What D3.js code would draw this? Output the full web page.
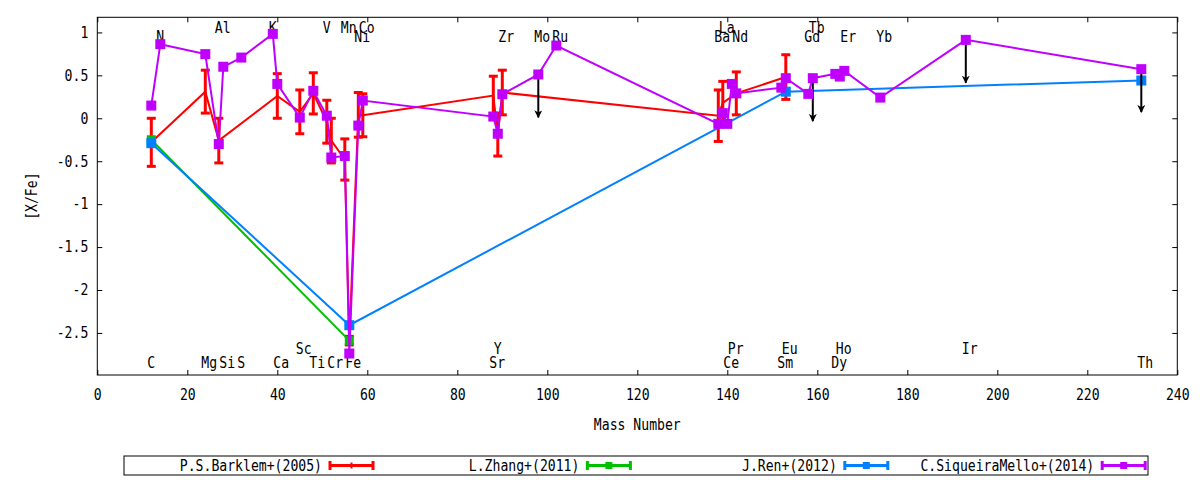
<!DOCTYPE html>
<html lang="en">
<head>
<meta charset="UTF-8">
<title>[X/Fe] vs Mass Number</title>
<script src="https://d3js.org/d3.v7.min.js"></script>
<style>
    body { margin: 0; background: #fff; }
    svg { display: block; }
    text {
        font-family: "DejaVu Sans Mono", monospace;
        font-size: 15px;
        fill: #000;
    }
</style>
</head>
<body>
<svg id="chart" width="1200" height="480">
    <defs>
        <marker id="arrowhead" viewBox="0 -5 10 10" refX="9" refY="0" markerWidth="4" markerHeight="4" orient="auto">
            <path d="M0,-5L10,0L0,5L3,0Z" fill="#000"></path>
        </marker>
    </defs>
</svg>
<script>
    // P.S.Barklem+(2005) with error bars
    const barklemMass = [12, 24, 27, 40, 45, 48, 51, 52, 55, 56, 58, 59, 88, 89, 90, 138, 139, 142, 153];
    const barklemVal  = [-0.28, 0.31, -0.26, 0.26, 0.075, 0.29, -0.04, -0.26, -0.48, -2.59, 0.04, 0.035, 0.265, -0.19, 0.30, 0.03, 0.18, 0.29, 0.48];
    const barklemErr  = [0.28, 0.25, 0.26, 0.26, 0.255, 0.24, 0.25, 0.26, 0.24, 0.05, 0.26, 0.25, 0.225, 0.25, 0.26, 0.30, 0.25, 0.25, 0.26];

    // L.Zhang+(2011)
    const zhangMass = [12, 56];
    const zhangVal  = [-0.25, -2.59];

    // J.Ren+(2012)
    const renMass = [12, 56, 153, 232];
    const renVal  = [-0.29, -2.41, 0.31, 0.44];

    // C.SiqueiraMello+(2014)
    const melloMass = [12, 14, 24, 27, 28, 32, 39, 40, 45, 48, 51, 52, 55, 56, 58, 59, 88, 89, 90, 98, 102,
                       138, 139, 140, 141, 142, 152, 153, 158, 159, 164, 165, 166, 174, 193, 232];
    const melloVal  = [0.148, 0.863, 0.747, -0.30, 0.60, 0.707, 0.983, 0.40, 0.008, 0.32, 0.03, -0.457, -0.44, -2.74, -0.085, 0.206, 0.02, -0.18, 0.28, 0.51, 0.847,
                       -0.065, 0.06, -0.065, 0.40, 0.29, 0.357, 0.467, 0.284, 0.467, 0.517, 0.486, 0.552, 0.241, 0.913, 0.572];
    // upper limits (arrows down)
    const limitMass = [98, 159, 193, 232];
    const limitLength = 0.5;

    // element names along the top and bottom of the plot
    const elemNames = ["C", "N", "Mg", "Al", "Si", "S", "K", "Ca", "Sc", "Ti", "V", "Cr", "Mn", "Fe", "Ni", "Co", "Sr", "Y", "Zr", "Mo", "Ru",
                       "Ba", "La", "Ce", "Pr", "Nd", "Sm", "Eu", "Gd", "Tb", "Dy", "Ho", "Er", "Yb", "Ir", "Th"];
    const elemMass = melloMass;
    const elemRow  = [3, 1, 3, 0, 3, 3, 0, 3, 2, 3, 0, 3, 0, 3, 1, 0, 3, 2, 1, 1, 1,
                      1, 0, 3, 2, 1, 3, 2, 1, 0, 3, 2, 1, 1, 2, 3];

    const xTicks = d3.range(0, 241, 20);
    const yTicks = [-2.5, -2, -1.5, -1, -0.5, 0, 0.5, 1];

    const legendNames  = ["P.S.Barklem+(2005)", "L.Zhang+(2011)", "J.Ren+(2012)", "C.SiqueiraMello+(2014)"];
    const legendColors = ["#ff0000", "#00c000", "#0080ff", "#c000ff"];

    const margin = {top: 17.3, right: 22.7, bottom: 105, left: 97.3};
    const width = 1200 - margin.left - margin.right,
          height = 480 - margin.top - margin.bottom;

    const svg = d3.select("#chart");
    const g = svg.append("g").attr("transform", `translate(${margin.left},${margin.top})`);

    const x = d3.scaleLinear().domain([0, 240]).range([0, width]);
    const y = d3.scaleLinear().domain([-2.99, 1.176]).range([height, 0]);

    // axes with inward ticks, mirrored on top and right
    const fmt = d => d3.format("")(d).replace("−", "-");
    g.append("g").attr("transform", `translate(0,${height})`)
        .call(d3.axisBottom(x).tickValues(xTicks).tickSize(-5).tickPadding(14).tickFormat(fmt));
    g.append("g")
        .call(d3.axisTop(x).tickValues(xTicks).tickSize(-5).tickFormat(""));
    g.append("g")
        .call(d3.axisLeft(y).tickValues(yTicks).tickSize(-5).tickPadding(9).tickFormat(fmt));
    g.append("g").attr("transform", `translate(${width},0)`)
        .call(d3.axisRight(y).tickValues(yTicks).tickSize(-5).tickFormat(""));
    g.selectAll(".domain").remove();
    g.selectAll(".tick line").attr("stroke", "#000");
    g.selectAll(".tick text").style("font-size", "15px").style("font-family", "DejaVu Sans Mono");

    g.append("rect")
        .attr("width", width).attr("height", height)
        .attr("fill", "none").attr("stroke", "#000").attr("stroke-width", 1);

    // axis titles
    g.append("text")
        .attr("x", width / 2).attr("y", height + 55)
        .attr("text-anchor", "middle")
        .text("Mass Number");
    g.append("text")
        .attr("transform", `translate(${-60},${height / 2}) rotate(-90)`)
        .attr("text-anchor", "middle")
        .text("[X/Fe]");

    // element labels
    const rowY = [15.7, 25, height - 21, height - 7];
    g.append("g").selectAll("text")
        .data(elemNames)
        .join("text")
        .attr("x", (d, i) => x(elemMass[i]) - 4)
        .attr("y", (d, i) => rowY[elemRow[i]])
        .text(d => d);

    const line = d3.line().x(d => x(d[0])).y(d => y(d[1]));

    // Barklem: line + error bars
    const barklem = barklemMass.map((m, i) => [m, barklemVal[i], barklemErr[i]]);
    g.append("path").datum(barklem)
        .attr("d", line).attr("fill", "none")
        .attr("stroke", "#ff0000").attr("stroke-width", 2);
    const eb = g.append("g").attr("stroke", "#ff0000").attr("stroke-width", 3);
    eb.selectAll("line.bar").data(barklem).join("line").attr("class", "bar")
        .attr("x1", d => x(d[0])).attr("x2", d => x(d[0]))
        .attr("y1", d => y(d[1] - d[2])).attr("y2", d => y(d[1] + d[2]));
    eb.selectAll("line.top").data(barklem).join("line").attr("class", "top")
        .attr("x1", d => x(d[0]) - 4.5).attr("x2", d => x(d[0]) + 4.5)
        .attr("y1", d => y(d[1] + d[2])).attr("y2", d => y(d[1] + d[2]));
    eb.selectAll("line.bot").data(barklem).join("line").attr("class", "bot")
        .attr("x1", d => x(d[0]) - 4.5).attr("x2", d => x(d[0]) + 4.5)
        .attr("y1", d => y(d[1] - d[2])).attr("y2", d => y(d[1] - d[2]));

    function drawSeries(mass, vals, color, size) {
        const pts = mass.map((m, i) => [m, vals[i]]);
        g.append("path").datum(pts)
            .attr("d", line).attr("fill", "none")
            .attr("stroke", color).attr("stroke-width", 2);
        g.append("g").selectAll("rect")
            .data(pts)
            .join("rect")
            .attr("x", d => x(d[0]) - size / 2)
            .attr("y", d => y(d[1]) - size / 2)
            .attr("width", size).attr("height", size)
            .attr("fill", color);
    }

    drawSeries(zhangMass, zhangVal, "#00c000", 9);
    drawSeries(renMass, renVal, "#0080ff", 10);

    // upper-limit arrows from Siqueira Mello points
    g.append("g").selectAll("line")
        .data(limitMass)
        .join("line")
        .attr("x1", d => x(d)).attr("x2", d => x(d))
        .attr("y1", d => y(melloVal[melloMass.indexOf(d)]))
        .attr("y2", d => y(melloVal[melloMass.indexOf(d)] - limitLength))
        .attr("stroke", "#000").attr("stroke-width", 2)
        .attr("marker-end", "url(#arrowhead)");

    drawSeries(melloMass, melloVal, "#c000ff", 10);

    // legend
    const leg = svg.append("g");
    leg.append("rect")
        .attr("x", 124).attr("y", 456).attr("width", 1024).attr("height", 19)
        .attr("fill", "none").attr("stroke", "#000");
    legendNames.forEach((name, i) => {
        const tx = 322 + i * 257.4;
        const x1 = tx + 8, x2 = tx + 51, ly = 465.5;
        const c = legendColors[i];
        leg.append("text").attr("x", tx).attr("y", ly + 5.5).attr("text-anchor", "end").text(name);
        leg.append("line").attr("x1", x1).attr("x2", x2).attr("y1", ly).attr("y2", ly)
            .attr("stroke", c).attr("stroke-width", 3);
        [x1, x2].forEach(cx => leg.append("line")
            .attr("x1", cx).attr("x2", cx).attr("y1", ly - 4.5).attr("y2", ly + 4.5)
            .attr("stroke", c).attr("stroke-width", 3));
        if (i === 0) {
            leg.append("line").attr("x1", (x1 + x2) / 2).attr("x2", (x1 + x2) / 2)
                .attr("y1", ly - 3).attr("y2", ly + 3).attr("stroke", c).attr("stroke-width", 2);
        } else {
            leg.append("rect").attr("x", (x1 + x2) / 2 - 3.5).attr("y", ly - 3.5)
                .attr("width", 7).attr("height", 7).attr("fill", c);
        }
    });

    // condense glyphs like the original terminal font
    svg.selectAll("text").each(function () {
        const n = this.textContent.length;
        if (n) d3.select(this).attr("textLength", n * 7.9).attr("lengthAdjust", "spacingAndGlyphs");
    });
</script>
</body>
</html>
